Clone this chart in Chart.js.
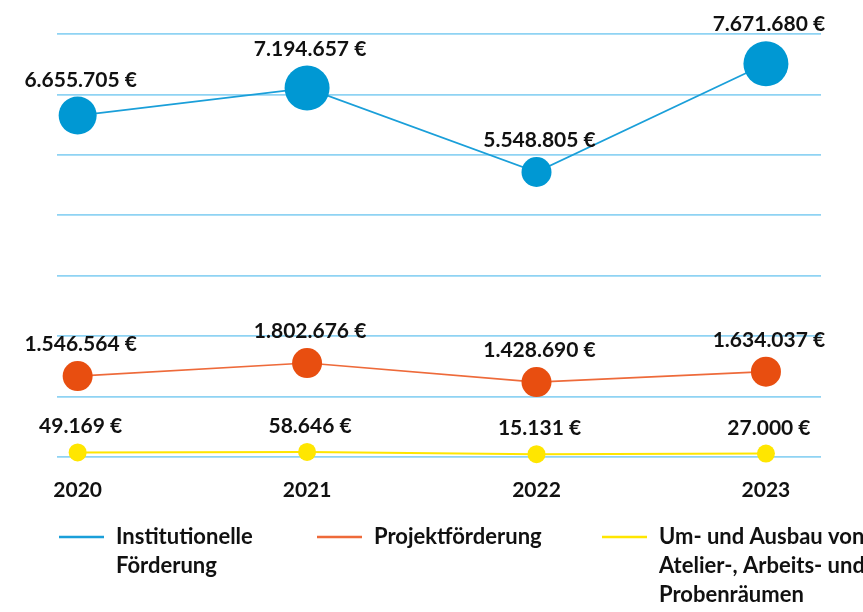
<!DOCTYPE html>
<html lang="de">
<head>
<meta charset="utf-8">
<script src="https://cdn.jsdelivr.net/npm/chart.js@4"></script>
<style>
  html, body { margin: 0; padding: 0; background: #fff; }
  #wrap { width: 863px; height: 612px; }
</style>
</head>
<body>
<div id="wrap"><canvas id="foerderChart" width="863" height="612"></canvas></div>
<script>
// Daten
const years = ['2020', '2021', '2022', '2023'];
const institutionelle = [6655705, 7194657, 5548805, 7671680];
const projekt = [1546564, 1802676, 1428690, 1634037];
const umbau = [49169, 58646, 15131, 27000];

const seriesNames = [
  ['Institutionelle', 'Förderung'],
  ['Projektförderung'],
  ['Um- und Ausbau von', 'Atelier-, Arbeits- und', 'Probenräumen']
];

const FONT = "Lato, 'Open Sans', sans-serif";
const TEXT_COLOR = '#111111';

function points(values) {
  return values.map((v, i) => ({x: Number(years[i]), y: v}));
}

function formatEuro(value) {
  return value.toString().replace(/\B(?=(\d{3})+(?!\d))/g, '.') + ' €';
}

// Werte über den Punkten
const valueLabels = {
  id: 'valueLabels',
  afterDatasetsDraw(chart) {
    const ctx = chart.ctx;
    ctx.save();
    ctx.font = 'bold 21px ' + FONT;
    ctx.fillStyle = TEXT_COLOR;
    ctx.textAlign = 'center';
    ctx.textBaseline = 'alphabetic';
    chart.data.datasets.forEach((ds, di) => {
      chart.getDatasetMeta(di).data.forEach((pt, i) => {
        const r = pt.options.radius;
        ctx.fillText(formatEuro(ds.data[i].y), pt.x + 3, pt.y - r - 10);
      });
    });
    ctx.restore();
  }
};

// Legende mit mehrzeiligen Einträgen
const multiLegend = {
  id: 'multiLegend',
  afterDraw(chart) {
    const ctx = chart.ctx;
    const starts = [59, 317, 602];
    ctx.save();
    ctx.font = 'bold 22px ' + FONT;
    ctx.fillStyle = TEXT_COLOR;
    ctx.textAlign = 'left';
    ctx.textBaseline = 'alphabetic';
    chart.data.datasets.forEach((ds, di) => {
      const x = starts[di];
      ctx.strokeStyle = ds.borderColor;
      ctx.lineWidth = 2.5;
      ctx.beginPath();
      ctx.moveTo(x, 537);
      ctx.lineTo(x + 45, 537);
      ctx.stroke();
      seriesNames[di].forEach((line, li) => {
        ctx.fillText(line, x + 57, 544 + li * 29);
      });
    });
    ctx.restore();
  }
};

new Chart(document.getElementById('foerderChart'), {
  type: 'line',
  data: {
    datasets: [{
      label: seriesNames[0].join(' '),
      data: points(institutionelle),
      borderColor: '#1a9fd9',
      backgroundColor: '#0098d3',
      borderWidth: 1.8,
      pointBackgroundColor: '#0098d3',
      pointBorderWidth: 0,
      pointRadius: [19, 22.5, 15, 22.5],
      clip: false,
      tension: 0
    }, {
      label: seriesNames[1].join(' '),
      data: points(projekt),
      borderColor: '#ee6a3a',
      backgroundColor: '#e84e10',
      borderWidth: 1.6,
      pointBackgroundColor: '#e84e10',
      pointBorderWidth: 0,
      pointRadius: 15,
      clip: false,
      tension: 0
    }, {
      label: seriesNames[2].join(' '),
      data: points(umbau),
      borderColor: '#ffe600',
      backgroundColor: '#ffe600',
      borderWidth: 2,
      pointBackgroundColor: '#ffe600',
      pointBorderWidth: 0,
      pointRadius: 9,
      clip: false,
      tension: 0
    }]
  },
  options: {
    responsive: false,
    animation: false,
    layout: {padding: {top: 34, right: 42, bottom: 105, left: 0}},
    plugins: {
      legend: {display: false},
      tooltip: {enabled: false}
    },
    scales: {
      x: {
        type: 'linear',
        min: 2019.91,
        max: 2023.24,
        afterBuildTicks: scale => {
          scale.ticks = years.map(y => ({value: Number(y)}));
        },
        afterFit: scale => { scale.height = 50; },
        grid: {display: false},
        border: {display: false},
        ticks: {
          autoSkip: false,
          maxRotation: 0,
          padding: 13,
          color: TEXT_COLOR,
          font: {family: FONT, size: 21, weight: 'bold'},
          callback: value => String(value)
        }
      },
      y: {
        min: -40000,
        max: 8255000,
        afterBuildTicks: scale => {
          const n = 7;
          const step = (scale.max - scale.min) / n;
          scale.ticks = Array.from({length: n + 1}, (_, i) => ({value: scale.min + i * step}));
        },
        afterFit: scale => { scale.width = 57; },
        border: {display: false},
        grid: {color: '#8fd3f3', lineWidth: 1.8, drawTicks: false},
        ticks: {display: false}
      }
    }
  },
  plugins: [valueLabels, multiLegend]
});
</script>
</body>
</html>
